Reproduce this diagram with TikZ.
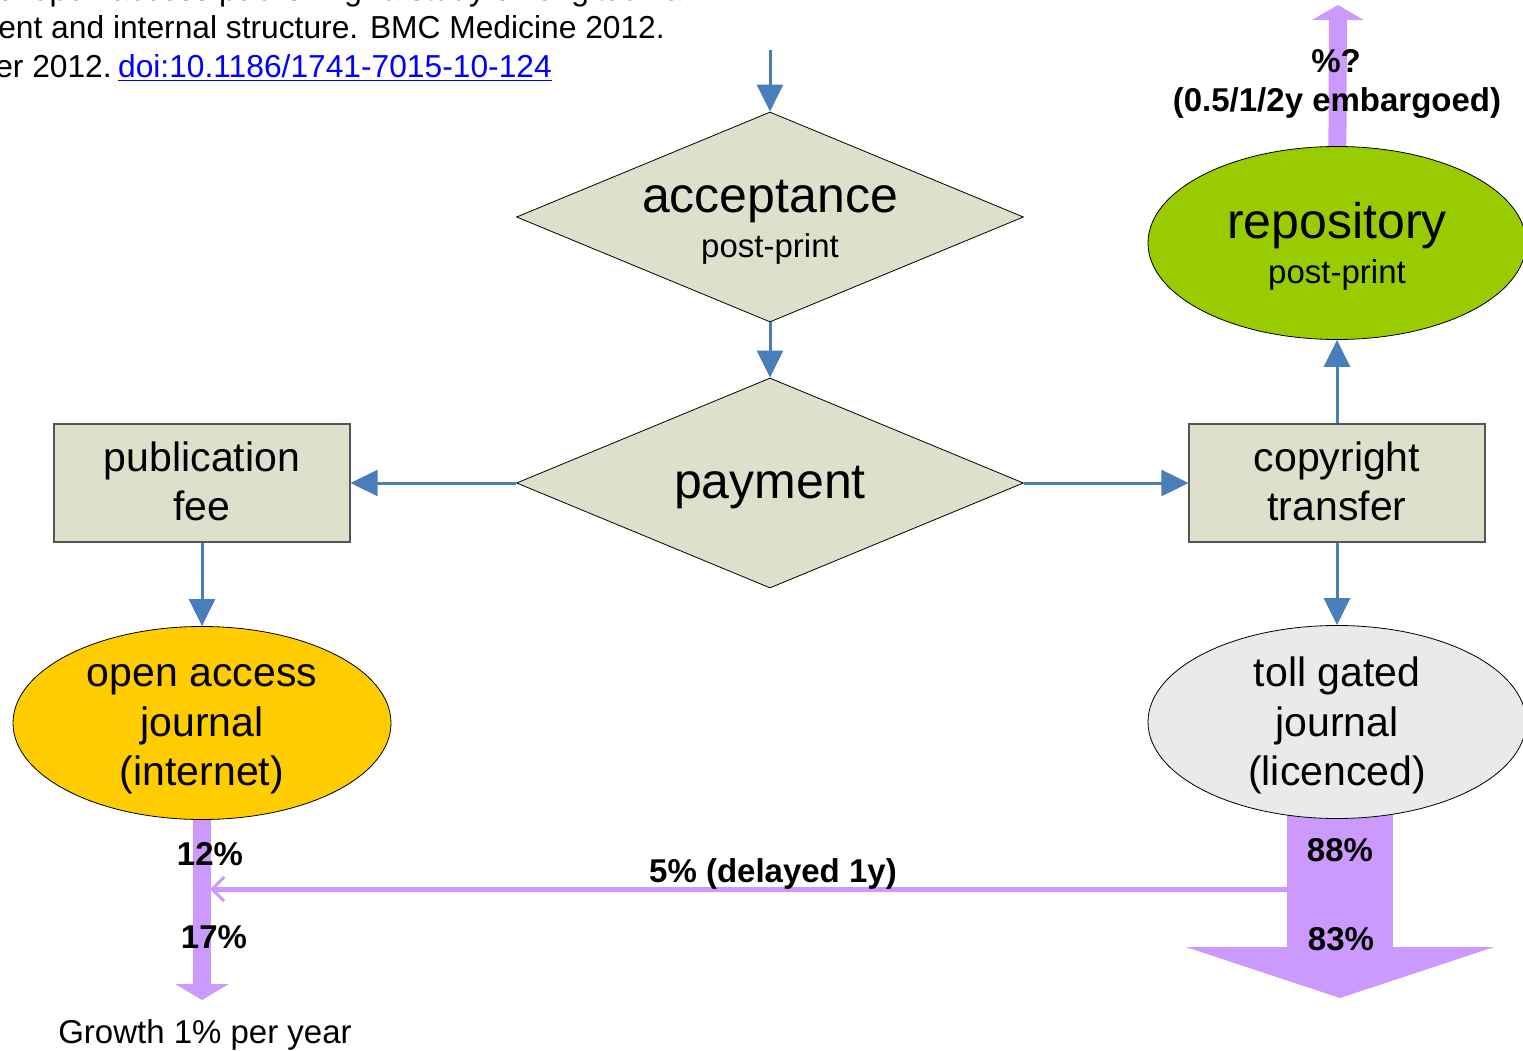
\documentclass[tikz,border=0pt]{standalone}
\usepackage{fontspec}
\setmainfont{Liberation Sans}
\usetikzlibrary{shapes.geometric,arrows.meta,backgrounds,calc}
\definecolor{sage}{HTML}{DDE1CB}
\definecolor{flowblue}{HTML}{4A7EBB}
\definecolor{flowpurple}{HTML}{CC99FF}
\definecolor{repogreen}{HTML}{99CC00}
\definecolor{oagold}{HTML}{FFCC00}
\definecolor{tollgray}{HTML}{EAEAEA}
\definecolor{linkblue}{HTML}{0000FF}
\definecolor{boxedge}{HTML}{555555}
\begin{document}
\begin{tikzpicture}[x=1pt,y=-1pt,
  decision/.style={diamond, draw=black, line width=0.8pt, fill=sage, minimum width=507pt, minimum height=210pt, inner sep=0pt, aspect=2.414},
  stepbox/.style={rectangle, draw=boxedge, line width=1.2pt, fill=sage, minimum width=296pt, minimum height=118pt, inner sep=0pt},
  outlet/.style={ellipse, draw=black, line width=0.8pt, minimum width=378pt, minimum height=193pt, inner sep=0pt},
  txtbig/.style={font=\fontsize{50}{60}\selectfont, anchor=base, inner sep=0pt},
  txtmid/.style={font=\fontsize{41}{50}\selectfont, anchor=base, inner sep=0pt},
  txtsmall/.style={font=\fontsize{33}{40}\selectfont, anchor=base, inner sep=0pt},
  pct/.style={font=\bfseries\fontsize{33}{38}\selectfont, anchor=base, inner sep=0pt},
  cite/.style={font=\fontsize{31.75}{40}\selectfont, anchor=base east, inner sep=0pt},
  flow/.style={draw=flowblue, line width=3pt, -{Triangle[width=26pt,length=27pt]}},
  share/.style={draw=flowpurple},
]
\useasboundingbox (0,0) rectangle (1523,1051);

% shapes
\node[decision] (accept) at (770,217) {};
\node[decision] (pay) at (770,483) {};
\node[stepbox] (fee) at (202,483) {};
\node[stepbox] (copy) at (1337,483) {};
\node[outlet, fill=oagold] (oa) at (202,723) {};
\node[outlet, fill=tollgray] (toll) at (1337,722) {};
\node[outlet, fill=repogreen] (repo) at (1337,243) {};

% purple flows behind shapes
\coordinate (repotop) at (1338,5);
\coordinate (oaend) at (202,1000);
\coordinate (tollstart) at (1340,722);
\coordinate (tollend) at (1340,998);
\coordinate (mergeR) at (1300,889);
\coordinate (mergeL) at (210,889);
\begin{pgfonlayer}{background}
\draw[share, line width=18pt, -{Triangle[width=51pt,length=15pt]}] (repo.center) -- (repotop);
\draw[share, line width=18pt, -{Triangle[width=53pt,length=16pt]}] (oa.center) -- (oaend);
\draw[share, line width=106pt, -{Triangle[width=307pt,length=51pt]}] (tollstart) -- (tollend);
\draw[share, line width=5pt, -{Straight Barb[length=12pt,width=24pt,line width=3pt]}] (mergeR) -- (mergeL);
\end{pgfonlayer}

% blue flows
\coordinate (entry) at (770,50);
\draw[flow] (entry) -- (accept.north);
\draw[flow] (accept.south) -- (pay.north);
\draw[flow] (pay.west) -- (fee.east);
\draw[flow] (pay.east) -- (copy.west);
\draw[flow] (fee.south) -- (oa.north);
\draw[flow] (copy.south) -- (toll.north);
\draw[flow] (copy.north) -- (repo.south);

% texts in shapes
\node[txtbig] (acc1) at (770,212) {acceptance};
\node[txtsmall] (acc2) at (770,257) {post-print};
\node[txtbig] (pay1) at (770,498) {payment};
\node[txtmid] (fee1) at (202,471) {publication};
\node[txtmid] (fee2) at (202,520) {fee};
\node[txtmid] (cop1) at (1337,471) {copyright};
\node[txtmid] (cop2) at (1337,520) {transfer};
\node[txtbig] (rep1) at (1337,238) {repository};
\node[txtsmall] (rep2) at (1337,283) {post-print};
\node[txtmid] (oa1) at (202,686) {open access};
\node[txtmid] (oa2) at (202,736) {journal};
\node[txtmid] (oa3) at (202,785) {(internet)};
\node[txtmid] (tg1) at (1337,686) {toll gated};
\node[txtmid] (tg2) at (1337,736) {journal};
\node[txtmid] (tg3) at (1337,785) {(licenced)};

% percentages
\node[pct] (p12) at (210,865) {12\%};
\node[pct] (p17) at (214,948) {17\%};
\node[pct] (p88) at (1340,861) {88\%};
\node[pct] (p83) at (1341,950) {83\%};
\node[pct] (p5) at (773,882) {5\% (delayed 1y)};
\node[pct] (pq) at (1336,73) {\%?};
\node[pct] (pemb) at (1337,112) {(0.5/1/2y embargoed)};
\node[txtsmall] (growth) at (205,1043) {Growth 1\% per year};

% citation (cropped)
\node[cite] (cite1) at (690,1) {of open access publishing: a study of longitudinal};
\node[cite] (cite2) at (665,39) {ent and internal structure. BMC Medicine 2012.};
\node[cite] (cite3) at (552,78) {er 2012.\hspace{0.2em}\textcolor{linkblue}{\underline{doi:10.1186/1741-7015-10-124}}};
\end{tikzpicture}
\end{document}
